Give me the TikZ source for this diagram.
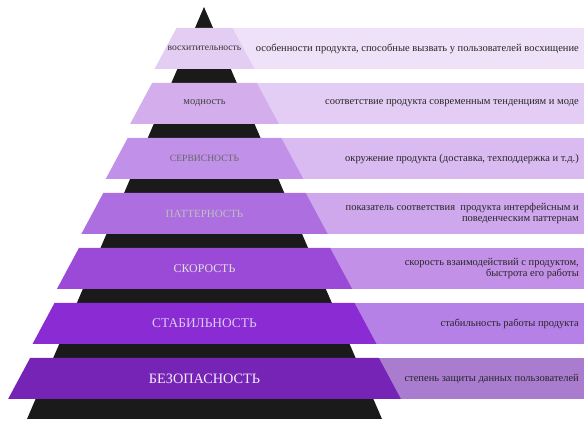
\documentclass[tikz,border=0pt]{standalone}
\usepackage{fontspec}
\setmainfont{Liberation Serif}
\definecolor{pyr}{HTML}{1A1A1A}
\definecolor{t1}{HTML}{E3CDF3}\definecolor{r1}{HTML}{EFE1F8}
\definecolor{t2}{HTML}{D4AEEC}\definecolor{r2}{HTML}{E3CDF4}
\definecolor{t3}{HTML}{C190E8}\definecolor{r3}{HTML}{D9BAF1}
\definecolor{t4}{HTML}{AD6EE0}\definecolor{r4}{HTML}{CFA7EC}
\definecolor{t5}{HTML}{9A4AD6}\definecolor{r5}{HTML}{C290E6}
\definecolor{t6}{HTML}{8A2BD3}\definecolor{r6}{HTML}{B681E6}
\definecolor{t7}{HTML}{7624B5}\definecolor{r7}{HTML}{A97CCF}
\definecolor{lbl6}{HTML}{DCCBEE}
\definecolor{lbl7}{HTML}{F4ECFA}
\tikzset{
  desc/.style={anchor=east, align=right, inner sep=0pt, text=black!85,
    font=\fontsize{10.5}{10.5}\selectfont},
  lvl/.style={inner sep=0pt},
}
\begin{document}
\begin{tikzpicture}[x=1pt,y=-1pt]
\useasboundingbox (0,0) rectangle (584,427);
% black pyramid behind the levels
\fill[pyr] (204,7) -- (382,419) -- (27,419) -- cycle;
% levels: description bar and trapezoid
\foreach \k/\tc/\rc in {1/t1/r1,2/t2/r2,3/t3/r3,4/t4/r4,5/t5/r5,6/t6/r6,7/t7/r7}{
  \pgfmathsetmacro{\ytop}{28+55*(\k-1)}
  \pgfmathsetmacro{\ybot}{\ytop+41}
  \pgfmathsetmacro{\hwt}{28+24.4*(\k-1)}
  \pgfmathsetmacro{\hwb}{\hwt+22}
  \fill[\rc] (204.5,\ytop) rectangle (584,\ybot);
  \fill[\tc] (204.5-\hwt,\ytop) -- (204.5+\hwt,\ytop) -- (204.5+\hwb,\ybot) -- (204.5-\hwb,\ybot) -- cycle;
  \coordinate (m\k) at (204.5,\ytop+20.5);
  \coordinate (e\k) at (579,\ytop+20.5);
}
% level names
\node[lvl, text=black!80, font=\fontsize{9.6}{10}\selectfont] (n1) at (m1) {восхитительность};
\node[lvl, text=black!75, font=\fontsize{10.5}{11}\selectfont] (n2) at (m2) {модность};
\node[lvl, text=black!60, font=\fontsize{9.6}{11}\selectfont] (n3) at (m3) {СЕРВИСНОСТЬ};
\node[lvl, text=black!25, font=\fontsize{11}{12}\selectfont] (n4) at (m4) {ПАТТЕРНОСТЬ};
\node[lvl, text=black!12, font=\fontsize{11.9}{13}\selectfont] (n5) at (m5) {СКОРОСТЬ};
\node[lvl, text=lbl6, font=\fontsize{13.4}{14}\selectfont] (n6) at (m6) {СТАБИЛЬНОСТЬ};
\node[lvl, text=lbl7, font=\fontsize{14.3}{15}\selectfont] (n7) at (m7) {БЕЗОПАСНОСТЬ};
% descriptions
\node[desc] (d1) at (e1) {особенности продукта, способные вызвать у пользователей восхищение};
\node[desc] (d2) at (e2) {соответствие продукта современным тенденциям и моде};
\node[desc] (d3) at (e3) {окружение продукта (доставка, техподдержка и т.д.)};
\node[desc] (d4) at (e4) {показатель соответствия\ \ продукта интерфейсным и\\поведенческим паттернам};
\node[desc] (d5) at (e5) {скорость взаимодействий с продуктом,\\быстрота его работы};
\node[desc] (d6) at (e6) {стабильность работы продукта};
\node[desc] (d7) at (e7) {степень защиты данных пользователей};
\end{tikzpicture}
\end{document}
